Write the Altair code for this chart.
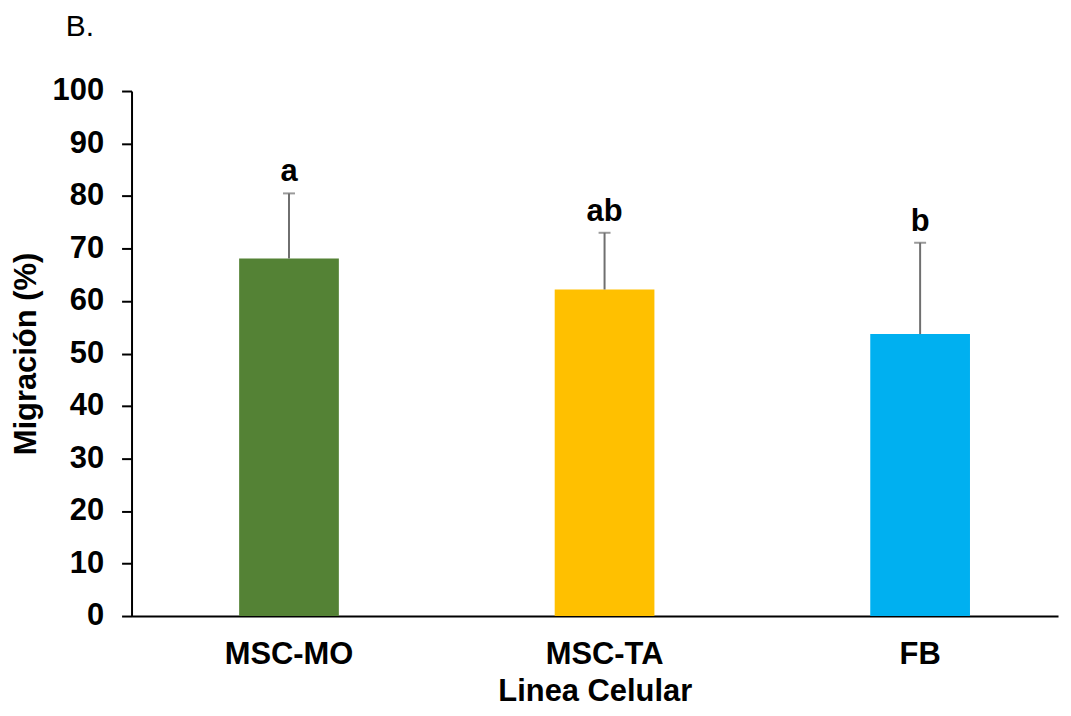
import altair as alt
import pandas as pd

categories = ["MSC-MO", "MSC-TA", "FB"]
means = [68.1, 62.2, 53.7]
upper = [80.5, 73.0, 71.1]
letters = ["a", "ab", "b"]
colors = ["#548235", "#FFC000", "#00B0F0"]

df = pd.DataFrame({"cat": categories, "mean": means, "upper": upper, "letter": letters})

FONT = "Liberation Sans"
FS = 31
xscale = alt.Scale(domain=categories, paddingInner=0.684, paddingOuter=0.31, align=0.55)
yscale = alt.Scale(domain=[0, 100], nice=False)

x = alt.X("cat:N", scale=xscale, sort=categories,
          axis=alt.Axis(title="Linea Celular", labelAngle=0, ticks=False,
                        domainColor="black", domainWidth=2,
                        labelFont=FONT, labelFontSize=FS, labelFontWeight="bold", labelColor="black",
                        labelPadding=24,
                        titleFont=FONT, titleFontSize=FS, titleFontWeight="bold", titleColor="black",
                        titlePadding=7))

bars = alt.Chart(df).mark_bar().encode(
    x=x,
    y=alt.Y("mean:Q", scale=yscale,
            axis=alt.Axis(title="Migración (%)", values=list(range(0, 101, 10)), grid=False,
                          domainColor="black", domainWidth=2, tickColor="black", tickWidth=2, tickSize=10,
                          labelFont=FONT, labelFontSize=FS, labelFontWeight="bold", labelColor="black",
                          labelPadding=18,
                          titleFont=FONT, titleFontSize=FS, titleFontWeight="bold", titleColor="black",
                          titlePadding=10)),
    color=alt.Color("cat:N", scale=alt.Scale(domain=categories, range=colors), legend=None),
)

stems = alt.Chart(df).mark_rule(color="#6f6f6f", strokeWidth=2).encode(
    x=alt.X("cat:N", scale=xscale, sort=categories),
    y=alt.Y("mean:Q", scale=yscale),
    y2="upper:Q",
)

caps = alt.Chart(df).mark_tick(color="#6f6f6f", thickness=2, size=12, orient="horizontal").encode(
    x=alt.X("cat:N", scale=xscale, sort=categories),
    y=alt.Y("upper:Q", scale=yscale),
)

labels = alt.Chart(df).mark_text(font=FONT, fontSize=FS, fontWeight="bold", color="black",
                                 baseline="bottom", dy=-5).encode(
    x=alt.X("cat:N", scale=xscale, sort=categories),
    y=alt.Y("upper:Q", scale=yscale),
    text="letter:N",
)

panel = alt.Chart(pd.DataFrame({"t": ["B."]})).mark_text(
    font=FONT, fontSize=30, color="black", align="left", baseline="alphabetic"
).encode(x=alt.value(-66), y=alt.value(-55), text="t:N")

chart = alt.layer(bars, stems, caps, labels, panel).properties(
    width=930, height=527,
    autosize=alt.AutoSizeParams(type="none"),
    padding={"left": 124, "top": 82, "right": 5, "bottom": 98},
).configure_view(stroke=None)

chart.save("out.html", embed_options={"renderer": "svg", "actions": False})
